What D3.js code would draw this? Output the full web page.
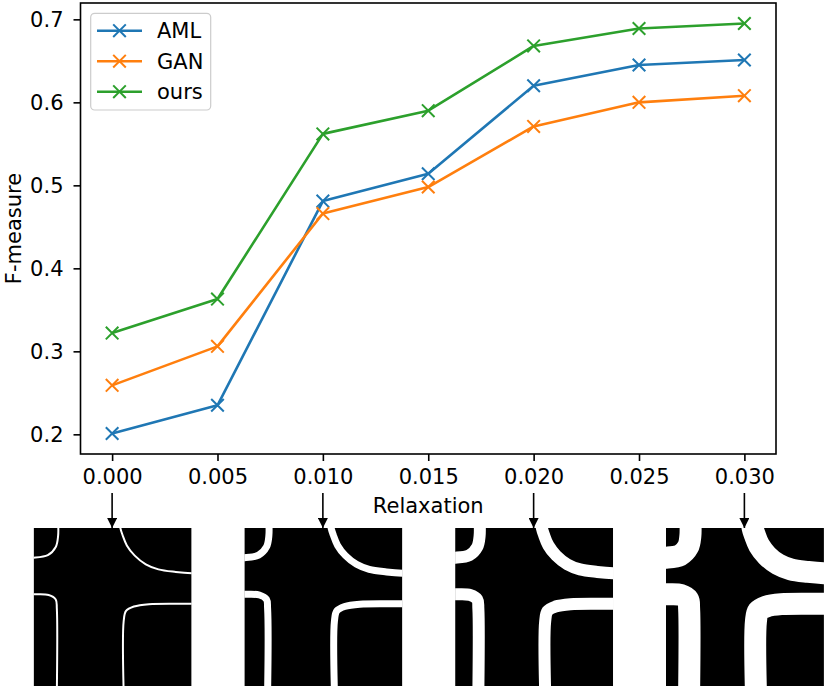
<!DOCTYPE html>
<html>
<head>
<meta charset="utf-8">
<script src="https://cdn.jsdelivr.net/npm/d3@7/dist/d3.min.js"></script>
<style>
  html, body { margin: 0; padding: 0; background: #fff; }
  svg { display: block; font-family: "DejaVu Sans", sans-serif; }
</style>
</head>
<body>
<svg id="chart" width="830" height="691"></svg>
<script>
// ---------------- data ----------------
const relaxation = [0.000, 0.005, 0.010, 0.015, 0.020, 0.025, 0.030];
const amlValues  = [0.201, 0.235, 0.481, 0.514, 0.620, 0.645, 0.651];
const ganValues  = [0.259, 0.306, 0.466, 0.498, 0.571, 0.600, 0.608];
const oursValues = [0.322, 0.363, 0.562, 0.590, 0.668, 0.689, 0.695];
const seriesNames = ["AML", "GAN", "ours"];
const xTickLabels = ["0.000", "0.005", "0.010", "0.015", "0.020", "0.025", "0.030"];
const yTickValues = [0.2, 0.3, 0.4, 0.5, 0.6, 0.7];
const panelRelaxation = [0.000, 0.010, 0.020, 0.030];
// contour of the road crossing in the illustration (unit square coords)
const contourUL = [[0.155,-0.04],[0.155,0.05],[0.14,0.12],[0.09,0.172],[0.0,0.188],[-0.04,0.188]];
const contourUR = [[0.545,-0.04],[0.549,0.0],[0.563,0.045],[0.59,0.11],[0.64,0.175],[0.71,0.23],[0.79,0.262],[0.9,0.278],[1.0,0.286],[1.04,0.286]];
const contourLL = [[-0.04,0.42],[0.0,0.42],[0.095,0.424],[0.14,0.452],[0.147,0.51],[0.147,1.04]];
const contourLR = [[0.57,1.04],[0.57,0.59],[0.585,0.525],[0.635,0.497],[0.73,0.482],[1.0,0.48],[1.04,0.48]];

// ---------------- style ----------------
const colors = ["#1f77b4", "#ff7f0e", "#2ca02c"];
const panelStroke = [2, 7, 12, 22];
const FONT = 21;

const svg = d3.select("#chart");
const margin = { left: 80.5, right: 776, top: 3, bottom: 454 };

const x = d3.scaleLinear().domain([-0.0015, 0.0315]).range([margin.left, margin.right]);
const allVals = amlValues.concat(ganValues, oursValues);
const ext = d3.extent(allVals);
const pad = (ext[1] - ext[0]) * 0.05;
const y = d3.scaleLinear().domain([ext[0] - pad, ext[1] + pad]).range([margin.bottom, margin.top]);

// axes
const xAxis = d3.axisBottom(x).tickValues(relaxation).tickFormat((d, i) => xTickLabels[i]).tickSize(7).tickPadding(8);
const yAxis = d3.axisLeft(y).tickValues(yTickValues).tickFormat(d3.format(".1f")).tickSize(7).tickPadding(10);

const gx = svg.append("g").attr("transform", `translate(0,${margin.bottom})`).call(xAxis);
const gy = svg.append("g").attr("transform", `translate(${margin.left},0)`).call(yAxis);
[gx, gy].forEach(g => {
  g.select(".domain").remove();
  g.selectAll(".tick line").attr("stroke", "#000").attr("stroke-width", 1.6);
  g.selectAll(".tick text").attr("font-size", FONT).attr("fill", "#000").attr("font-family", "DejaVu Sans");
});

// series
const series = [amlValues, ganValues, oursValues];
const line = d3.line().x((d, i) => x(relaxation[i])).y(d => y(d));
const xMark = (cx, cy, s) => `M${cx - s},${cy - s}L${cx + s},${cy + s}M${cx - s},${cy + s}L${cx + s},${cy - s}`;

series.forEach((vals, k) => {
  svg.append("path").datum(vals).attr("d", line)
    .attr("fill", "none").attr("stroke", colors[k]).attr("stroke-width", 2.6)
    .attr("stroke-linejoin", "round");
  svg.append("g").selectAll("path").data(vals).join("path")
    .attr("d", (d, i) => xMark(x(relaxation[i]), y(d), 6.3))
    .attr("stroke", colors[k]).attr("stroke-width", 2).attr("fill", "none");
});

// frame
svg.append("rect")
  .attr("x", margin.left).attr("y", margin.top)
  .attr("width", margin.right - margin.left).attr("height", margin.bottom - margin.top)
  .attr("fill", "none").attr("stroke", "#000").attr("stroke-width", 1.6);

// legend
const lg = svg.append("g");
lg.append("rect").attr("x", 90.7).attr("y", 13.3).attr("width", 120).attr("height", 96.7)
  .attr("rx", 4).attr("fill", "#fff").attr("fill-opacity", 0.8).attr("stroke", "#ccc").attr("stroke-width", 1.2);
seriesNames.forEach((name, k) => {
  const yy = 30.7 + k * 30.5;
  lg.append("line").attr("x1", 97).attr("x2", 142).attr("y1", yy).attr("y2", yy)
    .attr("stroke", colors[k]).attr("stroke-width", 2.6);
  lg.append("path").attr("d", xMark(119.5, yy, 6.3)).attr("stroke", colors[k]).attr("stroke-width", 2).attr("fill", "none");
  lg.append("text").attr("x", 157).attr("y", yy).attr("dy", "0.36em").attr("font-size", FONT).text(name);
});

// labels
svg.append("text").attr("x", (margin.left + margin.right) / 2).attr("y", 513)
  .attr("text-anchor", "middle").attr("font-size", FONT).text("Relaxation");
svg.append("text").attr("transform", `translate(21,${(margin.top + margin.bottom) / 2}) rotate(-90)`)
  .attr("text-anchor", "middle").attr("font-size", FONT).text("F-measure");

// illustration panels
const defs = svg.append("defs");
defs.append("marker").attr("id", "arrowhead").attr("viewBox", "0 0 10 10")
  .attr("refX", 10).attr("refY", 5).attr("markerWidth", 10).attr("markerHeight", 10)
  .attr("markerUnits", "userSpaceOnUse").attr("orient", "auto")
  .append("path").attr("d", "M0,0L10,5L0,10Z").attr("fill", "#000");

const SIZE = 158, TOP = 528;
panelRelaxation.forEach((r, i) => {
  const x0 = x(r) - 78.5;
  const px = d3.scaleLinear().domain([0, 1]).range([x0, x0 + SIZE]);
  const py = d3.scaleLinear().domain([0, 1]).range([TOP, TOP + SIZE]);
  const cid = "clip" + i;
  defs.append("clipPath").attr("id", cid).append("rect")
    .attr("x", x0).attr("y", TOP).attr("width", SIZE).attr("height", SIZE);
  const g = svg.append("g").attr("clip-path", `url(#${cid})`);
  g.append("rect").attr("x", x0).attr("y", TOP).attr("width", SIZE).attr("height", SIZE).attr("fill", "#000");
  const cl = d3.line().x(d => px(d[0])).y(d => py(d[1])).curve(d3.curveCatmullRom.alpha(0.5));
  [contourUL, contourUR, contourLL, contourLR].forEach(c => {
    g.append("path").attr("d", cl(c)).attr("fill", "none").attr("stroke", "#fff")
      .attr("stroke-width", panelStroke[i]).attr("stroke-linejoin", "round");
  });
  svg.append("line").attr("x1", x(r)).attr("x2", x(r)).attr("y1", 493).attr("y2", TOP)
    .attr("stroke", "#000").attr("stroke-width", 1.6).attr("marker-end", "url(#arrowhead)");
});
</script>
</body>
</html>
